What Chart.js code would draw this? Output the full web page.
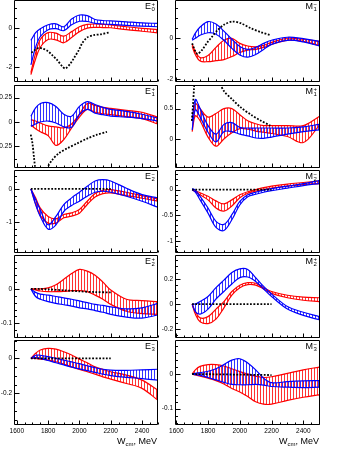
<!DOCTYPE html>
<html>
<head>
<meta charset="utf-8">
<script src="https://cdn.jsdelivr.net/npm/chart.js@4.4.1/dist/chart.umd.min.js"></script>
<style>
  body { margin: 0; width: 349px; height: 451px; background: #fff; position: relative; overflow: hidden;
         font-family: 'Liberation Sans', Arial, sans-serif; color: #000; }
  canvas { position: absolute; }
  .lab { position: absolute; font-size: 9px; line-height: 9px; white-space: nowrap; }
  .ss { display: inline-flex; flex-direction: column; vertical-align: top; font-size: 6px; line-height: 5px; margin-left: 0.5px; }
  .xt { position: absolute; font-size: 9px; line-height: 10px; white-space: nowrap; }
  .xt sub { font-size: 6px; vertical-align: -2px; }
</style>
</head>
<body>
<script>
// ---- energy grids (MeV) ----
const W_L = [1690, 1720, 1750, 1800, 1850, 1900, 1950, 2000, 2050, 2100, 2150, 2200, 2300, 2400, 2500];
const W_R = [1700, 1720, 1750, 1800, 1850, 1900, 1950, 2000, 2050, 2100, 2150, 2200, 2300, 2400, 2500];

// ---- E0+ ----
const E0p_redHi  = [-2.3, -1.3, -0.6, -0.25, -0.28, -0.43, -0.2, 0.05, 0.17, 0.19, 0.17, 0.15, 0.05, -0.03, -0.09];
const E0p_redLo  = [-2.4, -1.6, -1.0, -0.6, -0.62, -0.77, -0.5, -0.2, -0.02, 0.02, 0.01, 0.0, -0.1, -0.18, -0.26];
const E0p_blueHi = [-0.65, -0.25, -0.05, 0.15, 0.2, 0.05, 0.45, 0.65, 0.62, 0.42, 0.37, 0.35, 0.3, 0.25, 0.22];
const E0p_blueLo = [-1.9, -1.0, -0.45, -0.1, -0.05, -0.15, 0.15, 0.33, 0.32, 0.22, 0.19, 0.17, 0.12, 0.08, 0.05];
const E0p_dotW   = [1693, 1721, 1742, 1763, 1795, 1826, 1858, 1890, 1911, 1943, 1964, 1996, 2017, 2049, 2091, 2133, 2192];
const E0p_dot    = [-1.28, -1.11, -1.03, -1.06, -1.18, -1.40, -1.66, -1.97, -2.09, -1.83, -1.57, -1.15, -0.80, -0.50, -0.38, -0.34, -0.24];

// ---- M1- ----
const M1m_redHi  = [-0.3, -0.65, -0.95, -0.85, -0.45, -0.1, 0.0, -0.25, -0.38, -0.42, -0.35, -0.2, 0.0, -0.05, -0.15];
const M1m_redLo  = [-0.4, -0.8, -1.12, -1.15, -1.1, -1.05, -0.9, -0.7, -0.58, -0.55, -0.45, -0.3, -0.1, -0.15, -0.35];
const M1m_blueHi = [-0.05, 0.25, 0.55, 0.82, 0.7, 0.35, -0.05, -0.4, -0.55, -0.45, -0.25, -0.1, 0.05, -0.02, -0.15];
const M1m_blueLo = [-0.1, 0.0, 0.15, 0.27, 0.2, -0.1, -0.5, -0.82, -0.93, -0.8, -0.55, -0.3, -0.1, -0.18, -0.38];
const M1m_dotW   = [1700, 1721, 1735, 1763, 1795, 1826, 1858, 1900, 1953, 2006, 2070, 2133, 2192];
const M1m_dot    = [-0.25, -0.66, -0.77, -0.57, -0.21, 0.08, 0.38, 0.66, 0.82, 0.74, 0.49, 0.30, 0.15];

// ---- E1+ ----
const E1p_redHi  = [0.025, 0.01, -0.01, -0.04, -0.05, -0.06, -0.02, 0.08, 0.19, 0.17, 0.15, 0.14, 0.12, 0.1, 0.05];
const E1p_redLo  = [-0.03, -0.07, -0.1, -0.14, -0.24, -0.18, -0.06, 0.05, 0.13, 0.1, 0.085, 0.075, 0.055, 0.035, -0.02];
const E1p_blueHi = [0.06, 0.145, 0.19, 0.2, 0.16, 0.08, 0.06, 0.16, 0.21, 0.18, 0.15, 0.13, 0.11, 0.08, 0.04];
const E1p_blueLo = [-0.045, -0.02, 0.0, 0.01, -0.01, -0.05, -0.055, 0.076, 0.13, 0.09, 0.075, 0.06, 0.05, 0.035, 0.01];
const E1p_dotW   = [1689, 1700, 1710, 1716, 1740, 1775, 1795, 1826, 1869, 1922, 1985, 2049, 2112, 2176];
const E1p_dot    = [-0.13, -0.22, -0.37, -0.46, -0.9, -0.9, -0.48, -0.39, -0.32, -0.27, -0.22, -0.17, -0.13, -0.1];

// ---- M1+ ----
const M1p_redHi  = [0.3, 0.58, 0.5, 0.36, 0.42, 0.5, 0.5, 0.4, 0.3, 0.25, 0.22, 0.22, 0.22, 0.22, 0.37];
const M1p_redLo  = [0.12, 0.38, 0.3, 0.03, -0.12, 0.0, 0.1, 0.17, 0.16, 0.13, 0.11, 0.09, 0.04, -0.06, 0.22];
const M1p_blueHi = [0.3, 0.65, 0.5, 0.22, 0.08, 0.24, 0.27, 0.19, 0.18, 0.18, 0.18, 0.18, 0.18, 0.2, 0.24];
const M1p_blueLo = [0.15, 0.48, 0.36, 0.11, -0.05, 0.12, 0.12, 0.08, 0.05, 0.015, 0.01, 0.03, 0.08, 0.12, 0.15];
const M1p_dotW   = [1698, 1705, 1712, 1720, 1790, 1860, 1880, 1900, 1953, 2006, 2070, 2133, 2192];
const M1p_dot    = [0.3, 0.55, 0.85, 1.3, 3.0, 1.2, 0.9, 0.79, 0.65, 0.52, 0.4, 0.3, 0.22];

// ---- E2- ----
const E2m_redHi  = [0, -0.27, -0.58, -0.83, -0.9, -0.77, -0.72, -0.62, -0.37, -0.14, -0.04, -0.02, -0.1, -0.2, -0.3];
const E2m_redLo  = [0, -0.45, -0.8, -1.03, -1.03, -0.87, -0.82, -0.73, -0.47, -0.24, -0.14, -0.12, -0.2, -0.28, -0.37];
const E2m_blueHi = [0, -0.32, -0.63, -1.08, -0.83, -0.47, -0.27, -0.1, 0.08, 0.24, 0.28, 0.24, 0.02, -0.17, -0.27];
const E2m_blueLo = [0, -0.47, -0.83, -1.21, -1.08, -0.68, -0.5, -0.37, -0.22, -0.1, -0.07, -0.1, -0.22, -0.37, -0.55];
const E2m_dotW   = [1690, 2200];
const E2m_dot    = [0, 0];

// ---- M2- ----
const M2m_redHi  = [0, -0.02, -0.06, -0.13, -0.22, -0.28, -0.2, -0.1, -0.04, 0.0, 0.04, 0.07, 0.11, 0.14, 0.17];
const M2m_redLo  = [0, -0.04, -0.1, -0.2, -0.36, -0.42, -0.32, -0.16, -0.07, -0.03, 0.0, 0.03, 0.07, 0.1, 0.12];
const M2m_blueHi = [0.02, -0.01, -0.13, -0.36, -0.62, -0.68, -0.49, -0.23, -0.1, -0.05, -0.01, 0.02, 0.07, 0.12, 0.18];
const M2m_blueLo = [0.0, -0.05, -0.2, -0.46, -0.74, -0.8, -0.59, -0.3, -0.14, -0.09, -0.05, -0.02, 0.03, 0.08, 0.12];
const M2m_dotW   = [1700, 2200];
const M2m_dot    = [0, 0];

// ---- E2+ ----
const E2p_redHi  = [0, 0, 0, 0.003, 0.012, 0.028, 0.045, 0.057, 0.052, 0.04, 0.02, -0.003, -0.03, -0.034, -0.037];
const E2p_redLo  = [0, -0.003, -0.006, -0.008, -0.008, -0.007, -0.005, -0.005, -0.008, -0.018, -0.03, -0.045, -0.065, -0.072, -0.074];
const E2p_blueHi = [0, -0.01, -0.015, -0.018, -0.022, -0.026, -0.03, -0.035, -0.04, -0.045, -0.048, -0.052, -0.058, -0.055, -0.042];
const E2p_blueLo = [0, -0.022, -0.03, -0.037, -0.042, -0.046, -0.05, -0.055, -0.058, -0.063, -0.068, -0.074, -0.082, -0.085, -0.076];
const E2p_dotW   = [1690, 1750, 1800, 1900, 2000, 2100, 2200];
const E2p_dot    = [0, 0, -0.001, -0.004, -0.007, -0.009, -0.01];

// ---- M2+ ----
const M2p_redHi  = [0, -0.06, -0.11, -0.1, -0.04, 0.02, 0.1, 0.15, 0.17, 0.165, 0.13, 0.1, 0.07, 0.055, 0.05];
const M2p_redLo  = [0, -0.08, -0.14, -0.155, -0.12, -0.03, 0.07, 0.13, 0.155, 0.15, 0.12, 0.085, 0.05, 0.03, 0.02];
const M2p_blueHi = [0, 0.0, 0.02, 0.06, 0.13, 0.19, 0.25, 0.28, 0.275, 0.21, 0.14, 0.08, -0.02, -0.065, -0.1];
const M2p_blueLo = [0, -0.06, -0.08, -0.04, 0.04, 0.1, 0.16, 0.21, 0.215, 0.18, 0.12, 0.06, -0.04, -0.09, -0.125];
const M2p_dotW   = [1700, 2200];
const M2p_dot    = [0, 0];

// ---- E3- ----
const E3m_redHi  = [0, 0.029, 0.048, 0.057, 0.053, 0.038, 0.019, -0.004, -0.025, -0.048, -0.063, -0.076, -0.095, -0.124, -0.18];
const E3m_redLo  = [0, 0, -0.004, -0.01, -0.019, -0.032, -0.048, -0.063, -0.076, -0.09, -0.105, -0.118, -0.143, -0.171, -0.238];
const E3m_blueHi = [0, 0.018, 0.018, 0.01, 0.0, -0.01, -0.02, -0.03, -0.042, -0.053, -0.062, -0.067, -0.068, -0.065, -0.062];
const E3m_blueLo = [0, 0.005, 0.0, -0.012, -0.025, -0.037, -0.05, -0.06, -0.07, -0.08, -0.09, -0.098, -0.108, -0.115, -0.124];
const E3m_dotW   = [1690, 2200];
const E3m_dot    = [0, 0];

// ---- M3- ----
const M3m_redHi  = [0, 0.012, 0.022, 0.027, 0.027, 0.023, 0.015, 0.007, 0, -0.006, -0.01, -0.008, 0.002, 0.012, 0.02];
const M3m_redLo  = [0, -0.003, -0.006, -0.012, -0.019, -0.029, -0.042, -0.052, -0.065, -0.08, -0.087, -0.087, -0.076, -0.067, -0.06];
const M3m_blueHi = [0, 0.002, 0.004, 0.008, 0.015, 0.027, 0.04, 0.044, 0.032, 0.012, -0.012, -0.025, -0.022, -0.02, -0.019];
const M3m_blueLo = [0, -0.002, -0.004, -0.01, -0.017, -0.024, -0.03, -0.031, -0.031, -0.03, -0.032, -0.036, -0.038, -0.039, -0.038];
const M3m_dotW   = [1700, 2200];
const M3m_dot    = [0, -0.003];

// x axis ticks
const X_TICK_LABELS = [1600, 1800, 2000, 2200, 2400];

// panel list: which arrays go where + axis ranges
const PANELS = [
  { name: "E", sup: "+", sub: "0", col: 0, row: 0, yMin: -2.78, yMax: 1.42, major: 2, minor: 0.5,
    W: W_L, red: [E0p_redHi, E0p_redLo], blue: [E0p_blueHi, E0p_blueLo], dotW: E0p_dotW, dot: E0p_dot },
  { name: "M", sup: "\u2212", sub: "1", col: 1, row: 0, yMin: -2.15, yMax: 1.88, major: 2, minor: 0.5,
    W: W_R, red: [M1m_redHi, M1m_redLo], blue: [M1m_blueHi, M1m_blueLo], dotW: M1m_dotW, dot: M1m_dot },
  { name: "E", sup: "+", sub: "1", col: 0, row: 1, yMin: -0.472, yMax: 0.38, major: 0.25, minor: 0.125,
    W: W_L, red: [E1p_redHi, E1p_redLo], blue: [E1p_blueHi, E1p_blueLo], dotW: E1p_dotW, dot: E1p_dot },
  { name: "M", sup: "+", sub: "1", col: 1, row: 1, yMin: -0.48, yMax: 0.89, major: 0.5, minor: 0.25,
    W: W_R, red: [M1p_redHi, M1p_redLo], blue: [M1p_blueHi, M1p_blueLo], dotW: M1p_dotW, dot: M1p_dot },
  { name: "E", sup: "\u2212", sub: "2", col: 0, row: 2, yMin: -1.93, yMax: 0.57, major: 1, minor: 0.2,
    W: W_L, red: [E2m_redHi, E2m_redLo], blue: [E2m_blueHi, E2m_blueLo], dotW: E2m_dotW, dot: E2m_dot },
  { name: "M", sup: "\u2212", sub: "2", col: 1, row: 2, yMin: -1.24, yMax: 0.385, major: 0.5, minor: 0.1,
    W: W_R, red: [M2m_redHi, M2m_redLo], blue: [M2m_blueHi, M2m_blueLo], dotW: M2m_dotW, dot: M2m_dot },
  { name: "E", sup: "+", sub: "2", col: 0, row: 3, yMin: -0.143, yMax: 0.099, major: 0.1, minor: 0.02,
    W: W_L, red: [E2p_redHi, E2p_redLo], blue: [E2p_blueHi, E2p_blueLo], dotW: E2p_dotW, dot: E2p_dot },
  { name: "M", sup: "+", sub: "2", col: 1, row: 3, yMin: -0.27, yMax: 0.39, major: 0.2, minor: 0.05,
    W: W_R, red: [M2p_redHi, M2p_redLo], blue: [M2p_blueHi, M2p_blueLo], dotW: M2p_dotW, dot: M2p_dot },
  { name: "E", sup: "\u2212", sub: "3", col: 0, row: 4, yMin: -0.38, yMax: 0.105, major: 0.2, minor: 0.05,
    W: W_L, red: [E3m_redHi, E3m_redLo], blue: [E3m_blueHi, E3m_blueLo], dotW: E3m_dotW, dot: E3m_dot },
  { name: "M", sup: "\u2212", sub: "3", col: 1, row: 4, yMin: -0.147, yMax: 0.098, major: 0.1, minor: 0.02,
    W: W_R, red: [M3m_redHi, M3m_redLo], blue: [M3m_blueHi, M3m_blueLo], dotW: M3m_dotW, dot: M3m_dot },
];

// ---- layout (pixels) ----
const COL_X = [0, 161], COL_W = [161, 188];
const FRAME_L = 14;                 // frame left inside each canvas
const FRAME_R = [158, 320];         // absolute right edge of frames
const ROW_TOP = [0, 85, 170, 255, 340];
const ROW_BOT = [82, 168, 253, 338, 425];
const X_MIN = [1582, 1592], X_MAX = [2502, 2505];
const FONT = "'Liberation Sans', Arial, sans-serif";

const isMult = (v, s) => Math.abs(v / s - Math.round(v / s)) < 1e-6;
const fmt = v => String(parseFloat(v.toFixed(4)));

function hatch(color, off) {
  const c = document.createElement("canvas");
  c.width = 3; c.height = 4;
  const g = c.getContext("2d");
  g.fillStyle = color;
  g.fillRect(off, 0, 1, 4);
  return g.createPattern(c, "repeat");
}
const RED_FILL = hatch("rgba(255,0,0,0.8)", 0);
const BLUE_FILL = hatch("rgba(0,0,255,0.8)", 1);

// frame box + inward ROOT-style ticks
const frameTicks = {
  id: "frameTicks",
  afterDraw(chart, args, opts) {
    const { ctx, chartArea: a, scales: { x, y } } = chart;
    const L = Math.round(a.left) + 0.5, R = Math.round(a.right) - 0.5;
    const T = Math.round(a.top) + 0.5, B = Math.round(a.bottom) - 0.5;
    ctx.save();
    ctx.strokeStyle = "#000";
    ctx.lineWidth = 1;
    ctx.beginPath();
    ctx.rect(L, T, R - L, B - T);
    x.ticks.forEach(t => {
      const px = Math.round(x.getPixelForValue(t.value)) + 0.5;
      const len = isMult(t.value, 200) ? 4 : 2;
      ctx.moveTo(px, B); ctx.lineTo(px, B - len);
    });
    y.ticks.forEach(t => {
      const py = Math.round(y.getPixelForValue(t.value)) + 0.5;
      const len = isMult(t.value, opts.major) ? 5 : 2.5;
      ctx.moveTo(L, py); ctx.lineTo(L + len, py);
    });
    ctx.stroke();
    ctx.restore();
  }
};

const pts = (W, arr) => W.map((w, i) => ({ x: w, y: arr[i] }));

PANELS.forEach(p => {
  const cTop = Math.max(0, ROW_TOP[p.row] - 3);
  const cBot = p.row === 4 ? 438 : ROW_BOT[p.row] + 2;
  const padT = ROW_TOP[p.row] - cTop;
  const padB = cBot - ROW_BOT[p.row];
  const width = COL_W[p.col];
  const padR = width - (FRAME_R[p.col] - COL_X[p.col]);

  const cv = document.createElement("canvas");
  cv.width = width; cv.height = cBot - cTop;
  cv.style.left = COL_X[p.col] + "px";
  cv.style.top = cTop + "px";
  document.body.appendChild(cv);

  const line = (data, color, extra) => Object.assign({
    data, borderColor: color, borderWidth: 1.2, pointRadius: 0, tension: 0.35, fill: false, clip: 0
  }, extra);

  new Chart(cv, {
    type: "line",
    data: {
      datasets: [
        line(pts(p.dotW, p.dot), "#000", { borderDash: [1.8, 1.6], borderWidth: 1.8, tension: 0.3, order: 0 }),
        line(pts(p.W, p.blue[0]), "#0000ff", { fill: "+1", backgroundColor: BLUE_FILL, order: 1 }),
        line(pts(p.W, p.blue[1]), "#0000ff", { order: 1 }),
        line(pts(p.W, p.red[0]), "#ff0000", { fill: "+1", backgroundColor: RED_FILL, order: 2 }),
        line(pts(p.W, p.red[1]), "#ff0000", { order: 2 }),
      ]
    },
    options: {
      responsive: false,
      animation: false,
      devicePixelRatio: 1,
      layout: { padding: { top: padT, right: padR, left: 0, bottom: 0 } },
      plugins: { legend: { display: false }, tooltip: { enabled: false }, frameTicks: { major: p.major } },
      scales: {
        x: {
          type: "linear", min: X_MIN[p.col], max: X_MAX[p.col],
          grid: { display: false, drawTicks: false }, border: { display: false },
          afterFit: s => { s.height = padB; s.paddingLeft = 0; s.paddingRight = 0; },
          ticks: {
            stepSize: 50, maxTicksLimit: 1000, autoSkip: false, maxRotation: 0, includeBounds: false,
            padding: 2, color: "#000", font: { family: FONT, size: 6.5 },
            callback: v => (p.row === 4 && X_TICK_LABELS.includes(v)) ? String(v) : ""
          }
        },
        y: {
          type: "linear", min: p.yMin, max: p.yMax,
          grid: { display: false, drawTicks: false }, border: { display: false },
          afterFit: s => { s.width = FRAME_L; s.paddingTop = 0; s.paddingBottom = 0; },
          ticks: {
            stepSize: p.minor, maxTicksLimit: 1000, autoSkip: false, includeBounds: false,
            padding: 2, color: "#000", font: { family: FONT, size: 6.5 },
            callback: v => isMult(v, p.major) ? fmt(v) : ""
          }
        }
      }
    },
    plugins: [frameTicks]
  });

  // panel label, e.g. E0+
  const lab = document.createElement("div");
  lab.className = "lab";
  lab.style.right = (349 - FRAME_R[p.col] + 3) + "px";
  lab.style.top = (ROW_TOP[p.row] + 2) + "px";
  lab.innerHTML = `${p.name}<span class="ss"><span>${p.sup}</span><span>${p.sub}</span></span>`;
  document.body.appendChild(lab);
});

// x axis titles
[0, 1].forEach(col => {
  const t = document.createElement("div");
  t.className = "xt";
  t.style.right = (349 - FRAME_R[col] + 1) + "px";
  t.style.top = "436px";
  t.innerHTML = "W<sub>cm</sub>, MeV";
  document.body.appendChild(t);
});
</script>
</body>
</html>
